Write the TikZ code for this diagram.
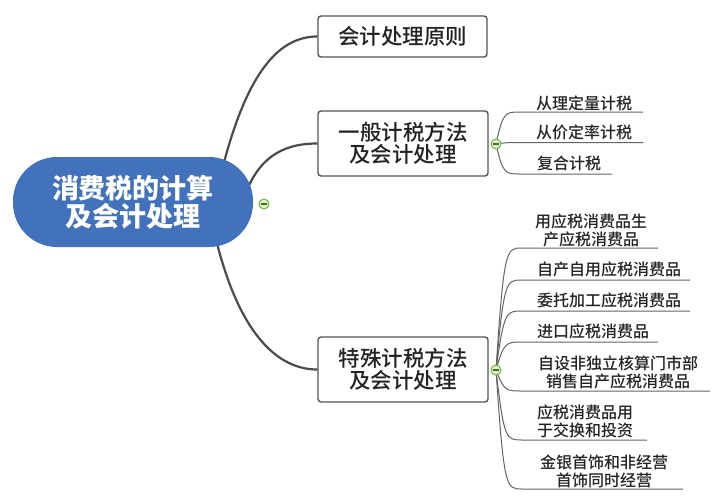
\documentclass[tikz,border=0pt]{standalone}
\usepackage{fontspec}
\setmainfont{Noto Sans CJK SC}
\newfontfamily\cjkmed{Noto Sans CJK SC Medium}
\usetikzlibrary{backgrounds}
\definecolor{rootblue}{RGB}{66,114,188}
\definecolor{linegray}{RGB}{75,75,75}
\definecolor{boxgray}{RGB}{85,85,85}
\definecolor{textdark}{RGB}{35,35,35}
\definecolor{leafgray}{RGB}{100,100,100}
\definecolor{hubgreen}{RGB}{110,180,60}
\definecolor{hubfill}{RGB}{225,242,205}
\begin{document}
\begin{tikzpicture}[x=1pt,y=-1pt,
  mainline/.style={line width=2.2pt, draw=linegray},
  rootnode/.style={fill=rootblue, rounded corners=44pt, minimum width=240pt, minimum height=90pt, align=center, text=white, font=\fontsize{27}{28}\selectfont\bfseries, inner sep=0pt},
  boxnode/.style={draw=boxgray, line width=1.4pt, rounded corners=3pt, fill=white, minimum width=170pt, minimum height=65pt, align=center, font=\cjkmed\fontsize{21.5}{22.5}\selectfont, text=textdark, inner sep=0pt},
  leaftext/.style={align=center, font=\cjkmed\fontsize{16}{18}\selectfont, text=textdark, inner sep=0pt},
  leafline/.style={draw=leafgray, line width=1pt},
  hub/.style={circle, draw=hubgreen, fill=hubfill, line width=1pt, minimum size=10pt, inner sep=0pt},
  minus/.style={draw=hubgreen!60!black, line width=1.2pt}
]
\useasboundingbox (0,0) rectangle (721,498);

% root and main boxes
\node[rootnode] (root) at (133,202) {消费税的计算\\及会计处理};
\node[hub] (h1) at (264,204) {};
\node[boxnode, minimum height=41pt, minimum width=169pt] (k1) at (402.5,36.5) {会计处理原则};
\node[boxnode] (k2) at (403,143.5) {一般计税方法\\及会计处理};
\node[boxnode] (k3) at (403,369.5) {特殊计税方法\\及会计处理};
\node[hub] (h2) at (496,144) {};
\node[hub] (h3) at (496,370) {};

% anchor points on the root (hidden behind it)
\coordinate (r1) at (222,170);
\coordinate (r2) at (245,195);
\coordinate (r3) at (215,235);

% leaves of k2
\node[leaftext] (a1) at (584,103) {从理定量计税};
\node[leaftext] (a2) at (584,132) {从价定率计税};
\node[leaftext] (a3) at (569,163) {复合计税};
\coordinate (a1s) at (520,112); \coordinate (a1e) at (643,112);
\coordinate (a2s) at (520,142.5); \coordinate (a2e) at (643,142.5);
\coordinate (a3s) at (520,174); \coordinate (a3e) at (612,174);

% leaves of k3
\node[leaftext] (b1) at (591,230) {用应税消费品生\\产应税消费品};
\node[leaftext] (b2) at (609,269) {自产自用应税消费品};
\node[leaftext] (b3) at (609,300) {委托加工应税消费品};
\node[leaftext] (b4) at (593,331) {进口应税消费品};
\node[leaftext] (b5) at (618,372) {自设非独立核算门市部\\销售自产应税消费品};
\node[leaftext] (b6) at (585,421.5) {应税消费品用\\于交换和投资};
\node[leaftext] (b7) at (604,471) {金银首饰和非经营\\首饰同时经营};
\coordinate (b1s) at (522,248); \coordinate (b1e) at (658,248);
\coordinate (b2s) at (522,280); \coordinate (b2e) at (690,280);
\coordinate (b3s) at (522,311); \coordinate (b3e) at (690,311);
\coordinate (b4s) at (522,342); \coordinate (b4e) at (658,342);
\coordinate (b5s) at (522,391); \coordinate (b5e) at (710,391);
\coordinate (b6s) at (522,440); \coordinate (b6e) at (647,440);
\coordinate (b7s) at (522,489); \coordinate (b7e) at (683,489);

% minus signs in hubs
\foreach \h in {h1,h2,h3}{
  \draw[minus] ([xshift=-3pt]\h.center) -- ([xshift=3pt]\h.center);
}

\begin{pgfonlayer}{background}
  \draw[mainline] (r1) .. controls (245,80) and (275,36.5) .. (k1.west);
  \draw[mainline] (r2) .. controls (258,160) and (280,143.5) .. (k2.west);
  \draw[mainline] (r3) .. controls (235,320) and (270,369.5) .. (k3.west);

  \draw[leafline] (h2.center) .. controls (503,112) and (505,112) .. (a1s) -- (a1e);
  \draw[leafline] (h2.center) .. controls (505,142.5) and (510,142.5) .. (a2s) -- (a2e);
  \draw[leafline] (h2.center) .. controls (503,174) and (505,174) .. (a3s) -- (a3e);

  \foreach \b/\y in {b1/248,b2/280,b3/311,b4/342,b5/391,b6/440,b7/489}{
    \draw[leafline] (h3.center) .. controls (504,\y) and (506,\y) .. (\b s) -- (\b e);
  }
\end{pgfonlayer}
\end{tikzpicture}
\end{document}
